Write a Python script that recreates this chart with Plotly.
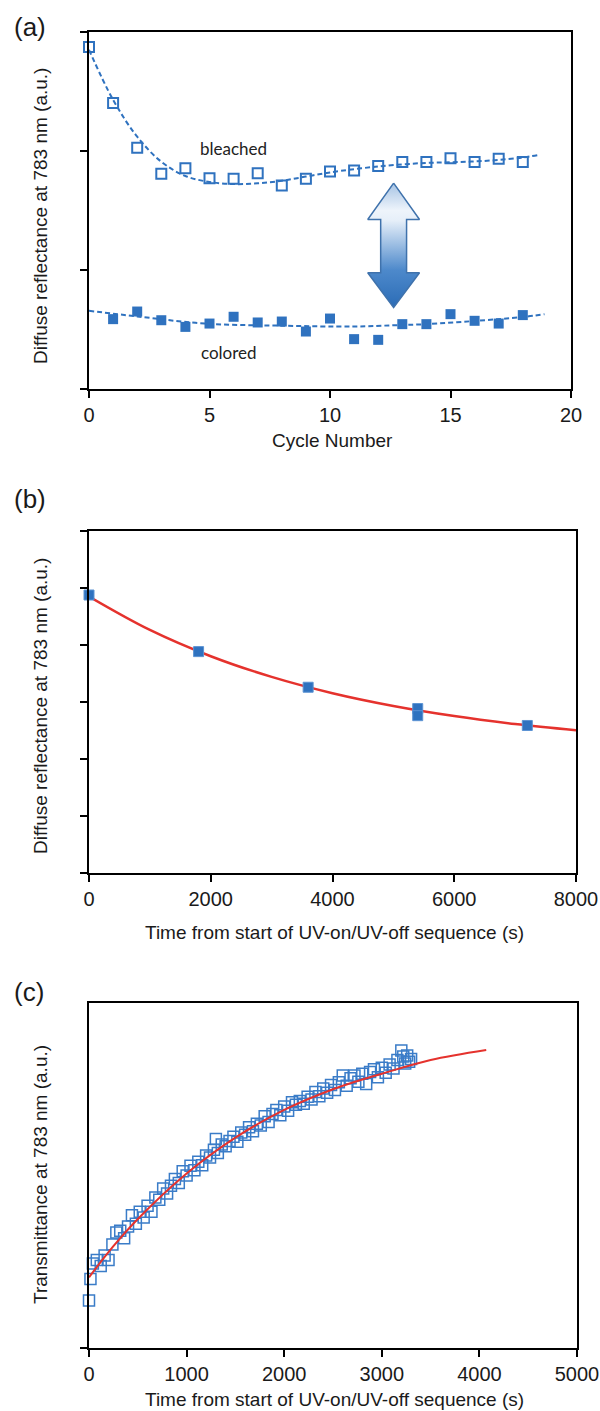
import plotly.graph_objects as go

# ---------------- Panel (a) data ----------------
cycles = [0, 1, 2, 3, 4, 5, 6, 7, 8, 9, 10, 11, 12, 13, 14, 15, 16, 17, 18]
bleached = [2.875, 2.404, 2.028, 1.809, 1.856, 1.772, 1.767, 1.814, 1.710, 1.767,
            1.828, 1.837, 1.873, 1.907, 1.907, 1.940, 1.907, 1.935, 1.907]
colored_cycles = [1, 2, 3, 4, 5, 6, 7, 8, 9, 10, 11, 12, 13, 14, 15, 16, 17, 18]
colored = [0.587, 0.651, 0.578, 0.522, 0.550, 0.607, 0.559, 0.567, 0.483, 0.592,
           0.419, 0.413, 0.545, 0.545, 0.629, 0.573, 0.550, 0.621]
bleached_fit_x = [0, 1, 2, 3, 4, 5, 6, 7, 8, 9, 10, 12, 14, 15, 16, 17, 18, 18.6]
bleached_fit_y = [2.85, 2.43, 2.12, 1.91, 1.79, 1.74, 1.722, 1.728, 1.75, 1.785,
                  1.82, 1.87, 1.90, 1.905, 1.912, 1.925, 1.945, 1.965]
colored_fit_x = [0, 2, 4.8, 8, 11, 12.7, 14, 16.1, 18, 18.9]
colored_fit_y = [0.657, 0.61, 0.55, 0.532, 0.525, 0.536, 0.545, 0.573, 0.605, 0.629]
a_xticks = [0, 5, 10, 15, 20]

# ---------------- Panel (b) data ----------------
time_b = [0, 1800, 3600, 5400, 5400, 7200]
refl_b = [4.877, 3.884, 3.259, 2.885, 2.760, 2.588]
fit_b_x = [0, 1000, 2000, 3000, 4000, 5000, 6000, 7000, 8000]
fit_b_y = [4.85, 4.264, 3.803, 3.440, 3.154, 2.930, 2.753, 2.614, 2.505]
b_xticks = [0, 2000, 4000, 6000, 8000]

# ---------------- Panel (c) data ----------------
time_c = [0, 15, 40, 80, 120, 160, 200, 240, 280, 320, 360, 400, 440, 480, 520,
          560, 600, 640, 680, 720, 760, 800, 840, 880, 920, 960, 1000, 1040, 1080,
          1120, 1160, 1200, 1240, 1280, 1300, 1320, 1360, 1400, 1440, 1480, 1520,
          1560, 1600, 1640, 1680, 1720, 1760, 1800, 1840, 1880, 1920, 1960, 2000,
          2040, 2080, 2120, 2160, 2200, 2240, 2280, 2320, 2360, 2400, 2440, 2480,
          2520, 2560, 2600, 2640, 2680, 2720, 2760, 2800, 2840, 2880, 2920, 2960,
          3000, 3040, 3080, 3120, 3160, 3200, 3220, 3240, 3260, 3280, 3300]
trans_c = [0.138, 0.200, 0.245, 0.255, 0.238, 0.268, 0.255, 0.300, 0.335, 0.340,
           0.318, 0.352, 0.385, 0.360, 0.395, 0.378, 0.412, 0.395, 0.436, 0.430,
           0.462, 0.448, 0.470, 0.490, 0.478, 0.512, 0.500, 0.528, 0.515, 0.540,
           0.530, 0.558, 0.552, 0.575, 0.606, 0.565, 0.590, 0.585, 0.600, 0.612,
           0.598, 0.625, 0.618, 0.640, 0.628, 0.650, 0.645, 0.672, 0.655, 0.678,
           0.690, 0.675, 0.700, 0.688, 0.712, 0.705, 0.716, 0.708, 0.728, 0.720,
           0.742, 0.730, 0.752, 0.740, 0.762, 0.748, 0.770, 0.790, 0.760, 0.782,
           0.790, 0.772, 0.795, 0.765, 0.800, 0.808, 0.785, 0.812, 0.798, 0.822,
           0.810, 0.835, 0.862, 0.845, 0.825, 0.848, 0.830, 0.838]
fit_c_x = [0, 250, 500, 1000, 1500, 2000, 2500, 3000, 3500, 4070]
fit_c_y = [0.205, 0.295, 0.374, 0.506, 0.610, 0.690, 0.750, 0.795, 0.835, 0.864]
c_xticks = [0, 1000, 2000, 3000, 4000, 5000]

# ---------------- styles ----------------
W, H = 600, 1411
BLUE = "#2f72bf"
RED = "#e5322d"
TICKFONT = dict(family="Liberation Sans, Arial", size=20, color="#1a1a1a")
TITLEFONT = dict(family="Liberation Sans, Arial", size=19, color="#1a1a1a")


def px(x):
    return x / W


def py(y):
    return 1 - y / H


fig = go.Figure()

# Panel (a)
fig.add_trace(go.Scatter(x=bleached_fit_x, y=bleached_fit_y, mode="lines",
                         line=dict(color=BLUE, width=2, dash="5px,3px", shape="spline"),
                         xaxis="x", yaxis="y", hoverinfo="skip"))
fig.add_trace(go.Scatter(x=colored_fit_x, y=colored_fit_y, mode="lines",
                         line=dict(color=BLUE, width=2, dash="5px,3px", shape="spline"),
                         xaxis="x", yaxis="y", hoverinfo="skip"))
fig.add_trace(go.Scatter(x=cycles, y=bleached, mode="markers", cliponaxis=False,
                         marker=dict(symbol="square-open", size=10, color=BLUE,
                                     line=dict(width=2, color=BLUE)),
                         xaxis="x", yaxis="y"))
fig.add_trace(go.Scatter(x=colored_cycles, y=colored, mode="markers", cliponaxis=False,
                         marker=dict(symbol="square", size=10, color=BLUE,
                                     line=dict(width=0)),
                         xaxis="x", yaxis="y"))

# double arrow (decoration), in data units of panel (a)
ac, a_top, a_hb1, a_hb2, a_bot = 12.64, 1.73, 1.424, 0.977, 0.685
hw, sw = 1.074, 0.537
arrow_x = [ac, ac + hw, ac + sw, ac + sw, ac + hw, ac, ac - hw, ac - sw, ac - sw, ac - hw, ac]
arrow_y = [a_top, a_hb1, a_hb1, a_hb2, a_hb2, a_bot, a_hb2, a_hb2, a_hb1, a_hb1, a_top]
fig.add_trace(go.Scatter(x=arrow_x, y=arrow_y, mode="lines", fill="toself",
                         line=dict(color="#3f72ac", width=1.5),
                         fillgradient=dict(type="vertical", start=a_bot, stop=a_top,
                                           colorscale=[[0, "#2b6cb6"], [0.3, "#4d89cb"],
                                                       [0.7, "#e6eff9"], [0.78, "#eef4fb"],
                                                       [1, "#a6c3e4"]]),
                         xaxis="x", yaxis="y", hoverinfo="skip"))

# Panel (b)
fig.add_trace(go.Scatter(x=fit_b_x, y=fit_b_y, mode="lines",
                         line=dict(color=RED, width=2.5, shape="spline"),
                         xaxis="x2", yaxis="y2", hoverinfo="skip"))
fig.add_trace(go.Scatter(x=time_b, y=refl_b, mode="markers", cliponaxis=False,
                         marker=dict(symbol="square", size=10, color=BLUE,
                                     line=dict(width=1, color="#5b93d3")),
                         xaxis="x2", yaxis="y2"))

# Panel (c)
fig.add_trace(go.Scatter(x=time_c, y=trans_c, mode="markers", cliponaxis=False,
                         marker=dict(symbol="square-open", size=11, color="#3a7cc8",
                                     line=dict(width=1.5, color="#3a7cc8")),
                         xaxis="x3", yaxis="y3"))
fig.add_trace(go.Scatter(x=fit_c_x, y=fit_c_y, mode="lines",
                         line=dict(color=RED, width=2, shape="spline"),
                         xaxis="x3", yaxis="y3", hoverinfo="skip"))

axis_common = dict(showline=True, linecolor="black", linewidth=2, mirror=True,
                   ticks="outside", ticklen=7, tickwidth=2, tickcolor="black",
                   showgrid=False, zeroline=False, fixedrange=True, automargin=False)

fig.update_layout(
    width=W, height=H, autosize=False, margin=dict(l=0, r=0, t=0, b=0),
    paper_bgcolor="white", plot_bgcolor="white", showlegend=False,
    xaxis=dict(domain=[px(89), px(571)], anchor="y", range=[0, 20],
               tickvals=a_xticks, tickfont=TICKFONT, ticklabelstandoff=0, **axis_common),
    yaxis=dict(domain=[py(389), py(32)], anchor="x", range=[0, 3],
               tickvals=[0, 1, 2, 3], showticklabels=False, **axis_common),
    xaxis2=dict(domain=[px(89), px(576)], anchor="y2", range=[0, 8000],
                tickvals=b_xticks, tickfont=TICKFONT, ticklabelstandoff=0, **axis_common),
    yaxis2=dict(domain=[py(873), py(531)], anchor="x2", range=[0, 6],
                tickvals=[0, 1, 2, 3, 4, 5, 6], showticklabels=False, **axis_common),
    xaxis3=dict(domain=[px(89), px(577)], anchor="y3", range=[0, 5000],
                tickvals=c_xticks, tickfont=TICKFONT, ticklabelstandoff=0, **axis_common),
    yaxis3=dict(domain=[py(1348), py(1003)], anchor="x3", range=[0, 1],
                tickvals=[0], showticklabels=False, **axis_common),
)

ann = []
# panel letters
for label, yc in [("(a)", 27), ("(b)", 499), ("(c)", 992)]:
    ann.append(dict(text=label, x=px(12), y=py(yc), xref="paper", yref="paper",
                    xanchor="left", yanchor="middle", showarrow=False,
                    font=dict(family="Liberation Sans, Arial", size=26, color="#1a1a1a")))
# axis titles
ann.append(dict(text="Cycle Number", x=px(332), y=py(440), xref="paper", yref="paper",
                xanchor="center", yanchor="middle", showarrow=False, font=TITLEFONT))
ann.append(dict(text="Time from start of UV-on/UV-off sequence (s)", x=px(334), y=py(933),
                xref="paper", yref="paper", xanchor="center", yanchor="middle",
                showarrow=False, font=TITLEFONT))
ann.append(dict(text="Time from start of UV-on/UV-off sequence (s)", x=px(334), y=py(1399),
                xref="paper", yref="paper", xanchor="center", yanchor="middle",
                showarrow=False, font=TITLEFONT))
for t, yc in [("Diffuse reflectance at 783 nm (a.u.)", 216),
              ("Diffuse reflectance at 783 nm (a.u.)", 706),
              ("Transmittance at 783 nm (a.u.)", 1175)]:
    ann.append(dict(text=t, x=px(40), y=py(yc), xref="paper", yref="paper",
                    xanchor="center", yanchor="middle", textangle=-90,
                    showarrow=False, font=TITLEFONT))
# in-plot labels for panel (a)
ann.append(dict(text="bleached", x=6.0, y=2.02, xref="x", yref="y", showarrow=False,
                font=dict(family="Lato, Open Sans", size=17, color="#222222")))
ann.append(dict(text="colored", x=5.8, y=0.306, xref="x", yref="y", showarrow=False,
                font=dict(family="Lato, Open Sans", size=17, color="#222222")))
fig.update_layout(annotations=ann)

fig.write_html("out.html",
               config={"responsive": False, "displayModeBar": False},
               default_width="600px", default_height="1411px",
               post_script="document.body.style.margin='0';document.body.style.overflow='hidden';")
